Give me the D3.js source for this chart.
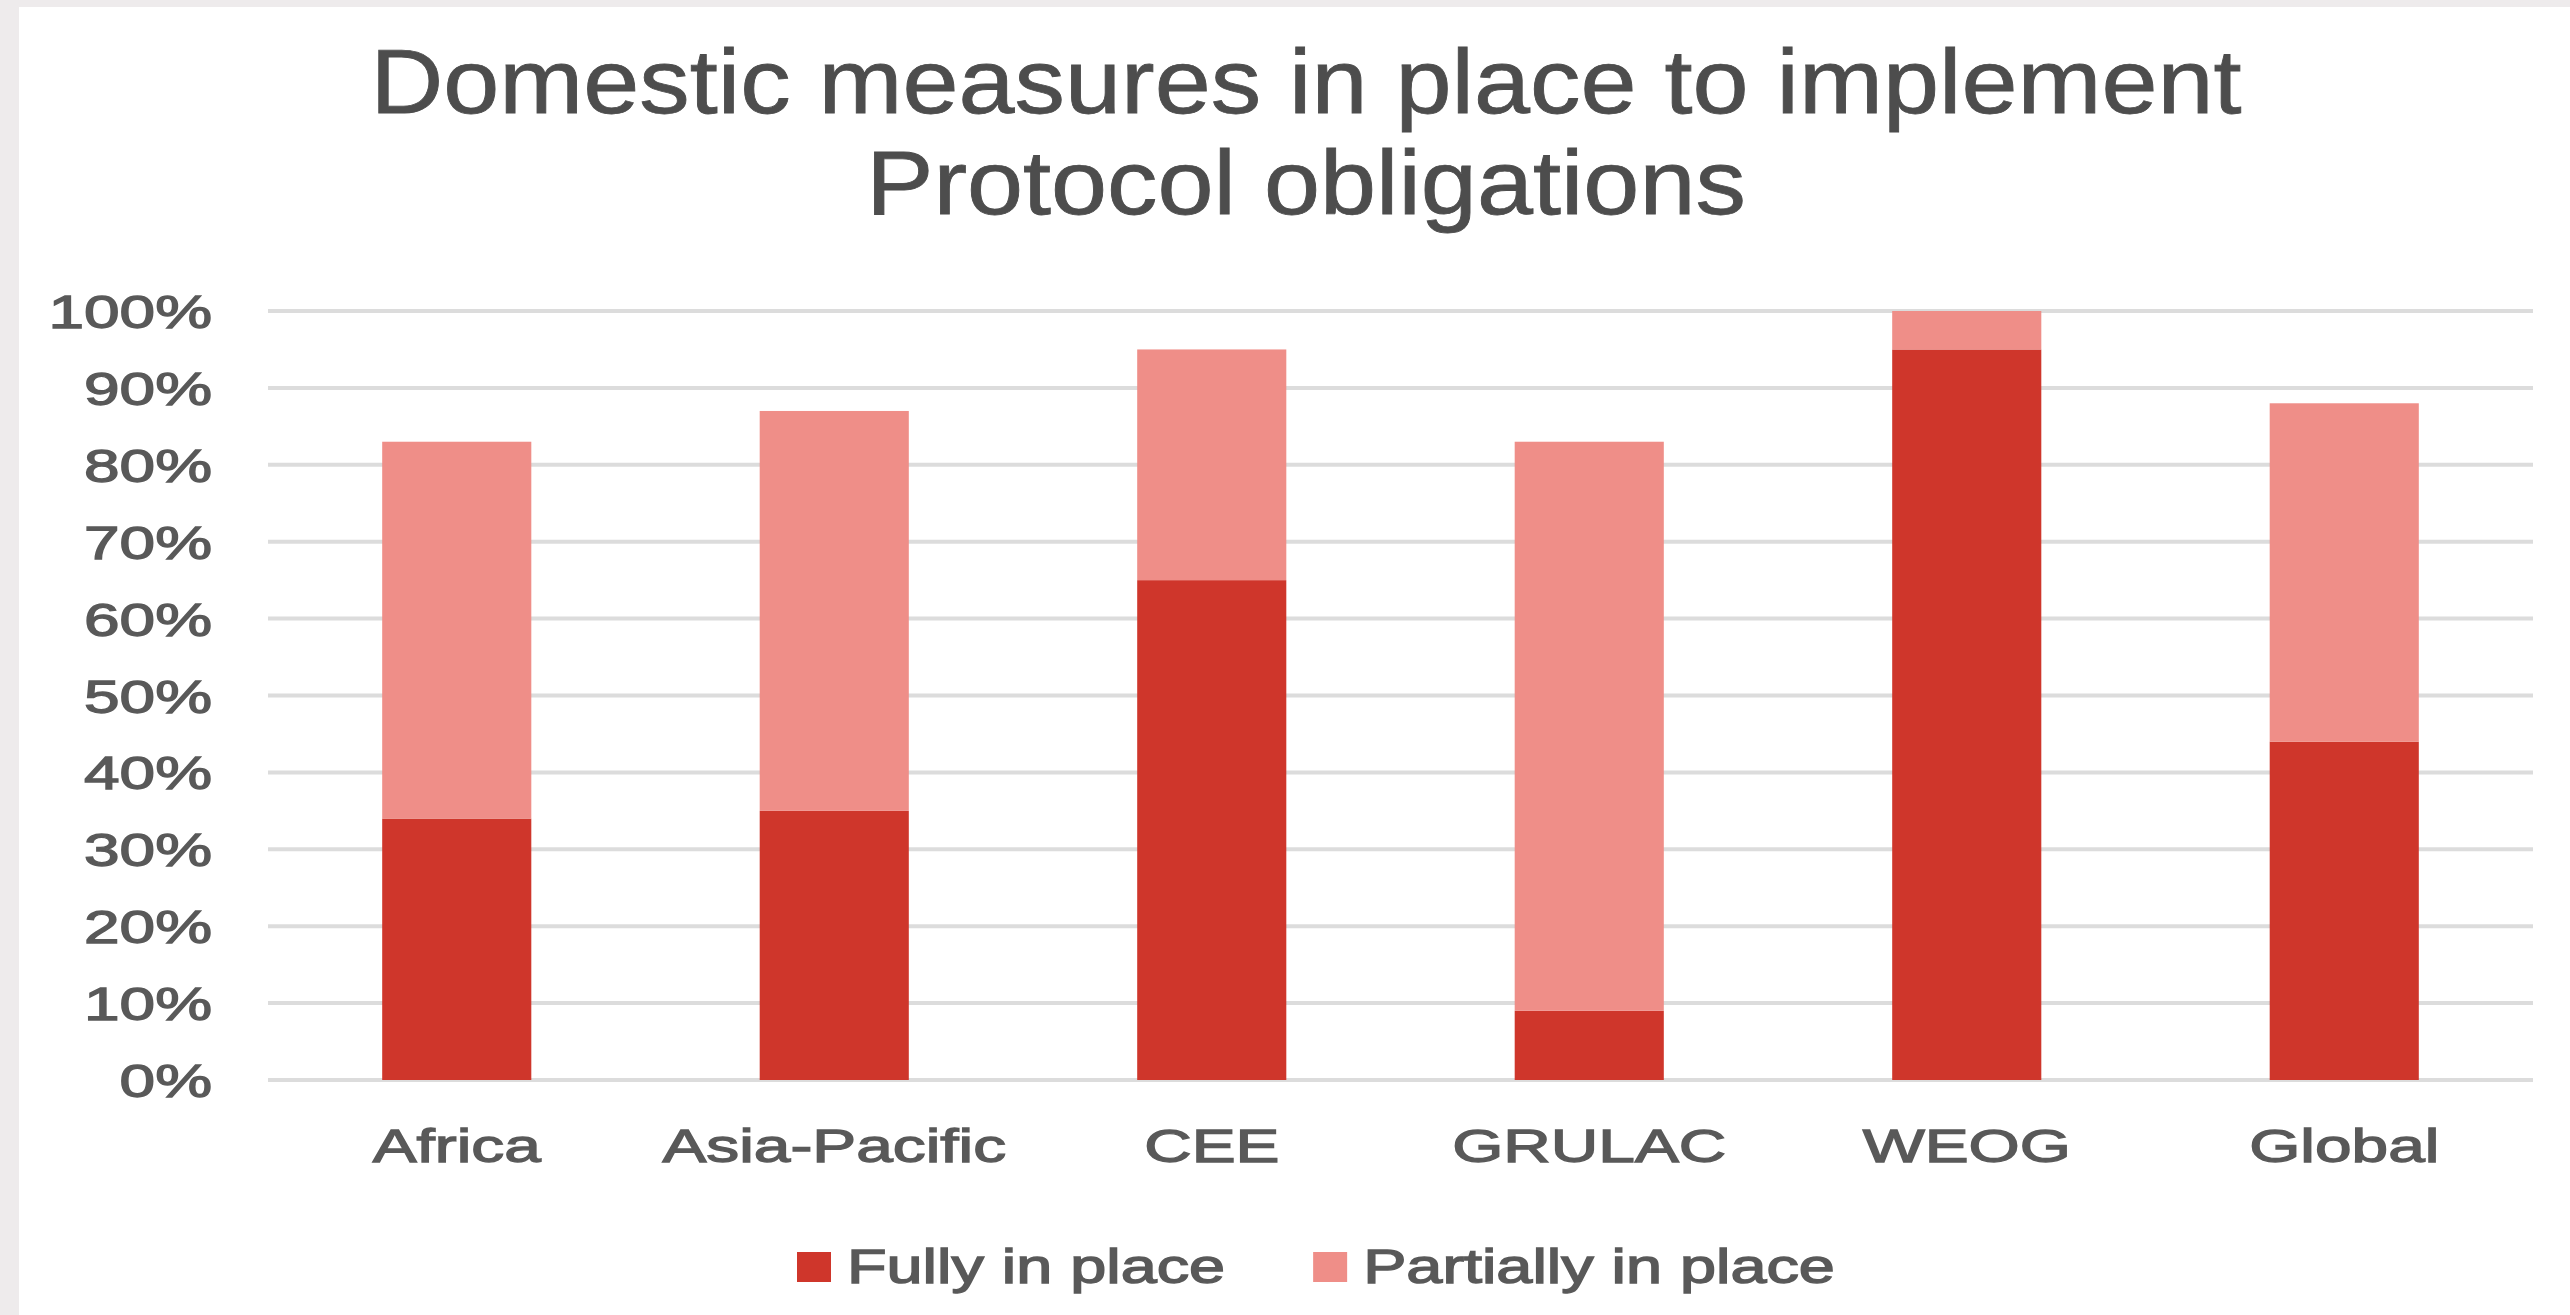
<!DOCTYPE html>
<html>
<head>
<meta charset="utf-8">
<script src="https://cdn.jsdelivr.net/npm/d3@7"></script>
<style>
  html, body { margin: 0; padding: 0; background: #eeebec; }
  svg { display: block; }
  text { font-family: "Liberation Sans", Arial, sans-serif; }
</style>
</head>
<body>
<svg id="chart" width="2570" height="1315"></svg>
<script>
// Regions and shares of Parties (fraction of 1)
const categories = ["Africa", "Asia-Pacific", "CEE", "GRULAC", "WEOG", "Global"];
const fullyInPlace = [0.34, 0.35, 0.65, 0.09, 0.95, 0.44];
const partiallyInPlace = [0.49, 0.52, 0.30, 0.74, 0.05, 0.44];
const seriesNames = ["Fully in place", "Partially in place"];
const yTicks = [0, 0.1, 0.2, 0.3, 0.4, 0.5, 0.6, 0.7, 0.8, 0.9, 1.0];
const titleLines = ["Domestic measures in place to implement", "Protocol obligations"];

const colors = ["#cf362b", "#ef8e88"];
const textColor = "#595959";

const svg = d3.select("#chart");

// white chart panel over the grey page
svg.append("rect")
  .attr("x", 19).attr("y", 7)
  .attr("width", 2570 - 19).attr("height", 1315 - 7)
  .attr("fill", "#ffffff");

const x = d3.scaleBand()
  .domain(categories)
  .range([268, 2533])
  .paddingInner(0.605)
  .paddingOuter(0.3025);

const y = d3.scaleLinear()
  .domain([0, 1])
  .range([1080, 311]);

// horizontal gridlines
svg.append("g")
  .selectAll("line")
  .data(yTicks)
  .join("line")
  .attr("x1", x.range()[0])
  .attr("x2", x.range()[1])
  .attr("y1", d => y(d))
  .attr("y2", d => y(d))
  .attr("stroke", "#dcdcdc")
  .attr("stroke-width", 4);

// stacked bars
const rows = categories.map((c, i) => ({
  category: c,
  [seriesNames[0]]: fullyInPlace[i],
  [seriesNames[1]]: partiallyInPlace[i]
}));
const stacked = d3.stack().keys(seriesNames)(rows);

svg.append("g")
  .selectAll("g")
  .data(stacked)
  .join("g")
  .attr("fill", (d, i) => colors[i])
  .selectAll("rect")
  .data(d => d)
  .join("rect")
  .attr("x", d => x(d.data.category))
  .attr("width", x.bandwidth())
  .attr("y", d => y(d[1]))
  .attr("height", d => y(d[0]) - y(d[1]));

// y axis labels
const yAxis = svg.append("g")
  .attr("transform", `translate(${x.range()[0]},0)`)
  .call(d3.axisLeft(y).tickValues(yTicks).tickFormat(d3.format(".0%")).tickSize(0));
yAxis.select(".domain").remove();
yAxis.selectAll("text")
  .attr("x", 0)
  .attr("dy", "0.36em")
  .attr("transform", "translate(-56,0) scale(1.39,1)")
  .attr("text-anchor", "end")
  .attr("fill", textColor)
  .attr("stroke", textColor)
  .attr("stroke-width", 1.3)
  .style("font-size", "46px")
  .style("font-family", '"Liberation Sans", Arial, sans-serif');

// x axis labels
const xAxis = svg.append("g")
  .attr("transform", `translate(0,${y(0)})`)
  .call(d3.axisBottom(x).tickSize(0));
xAxis.select(".domain").remove();
xAxis.selectAll("text")
  .attr("y", 0)
  .attr("dy", 0)
  .attr("transform", "translate(0,82) scale(1.43,1)")
  .attr("fill", textColor)
  .attr("stroke", textColor)
  .attr("stroke-width", 1.3)
  .style("font-size", "46px")
  .style("font-family", '"Liberation Sans", Arial, sans-serif');

// title
const title = svg.append("g")
  .attr("fill", "#4d4d4d")
  .attr("stroke", "#4d4d4d")
  .attr("stroke-width", 0.8);
titleLines.forEach((t, i) => {
  title.append("text")
    .attr("transform", `translate(1306,${113 + i * 101}) scale(1.12,1)`)
    .attr("text-anchor", "middle")
    .style("font-size", "90px")
    .text(t);
});

// legend
const legendStretch = 1.35;
let lx = 797;
const legend = svg.append("g");
seriesNames.forEach((name, i) => {
  legend.append("rect")
    .attr("x", lx).attr("y", 1252)
    .attr("width", 34).attr("height", 30)
    .attr("fill", colors[i]);
  const t = legend.append("text")
    .attr("transform", `translate(${lx + 50},1283) scale(${legendStretch},1)`)
    .attr("fill", textColor)
    .attr("stroke", textColor)
    .attr("stroke-width", 1.4)
    .style("font-size", "48px")
    .text(name);
  const w = t.node().getComputedTextLength() * legendStretch;
  lx = lx + 50 + w + 88;
});
</script>
</body>
</html>
